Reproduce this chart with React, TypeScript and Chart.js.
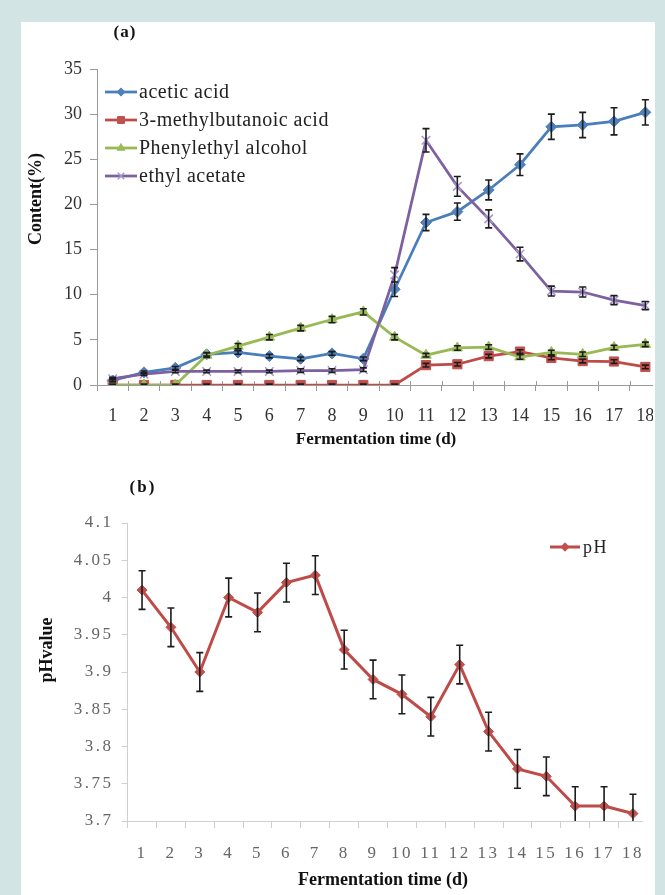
import React, { useEffect, useRef } from "react";
import { Chart, registerables } from "chart.js";
import { drawPoint } from "chart.js/helpers";

Chart.register(...registerables);

const SERIF = '"Liberation Serif", "Times New Roman", serif';

// ---------- data ----------
const days = ["1", "2", "3", "4", "5", "6", "7", "8", "9", "10", "11", "12", "13", "14", "15", "16", "17", "18"];

const aceticAcid = [0.5, 1.4, 1.9, 3.4, 3.6, 3.2, 2.9, 3.5, 2.9, 10.6, 18.0, 19.2, 21.6, 24.4, 28.6, 28.8, 29.2, 30.2];
const aceticAcidErr = [0.15, 0.15, 0.15, 0.2, 0.2, 0.2, 0.2, 0.2, 0.2, 0.8, 0.9, 0.95, 1.1, 1.2, 1.4, 1.4, 1.5, 1.4];

const methylbutanoicAcid = [0, 0, 0, 0, 0, 0, 0, 0, 0, 0, 2.2, 2.3, 3.2, 3.7, 3.0, 2.65, 2.6, 2.0];
const methylbutanoicAcidErr = [0.1, 0.1, 0.1, 0.1, 0.1, 0.1, 0.1, 0.1, 0.1, 0.1, 0.2, 0.2, 0.2, 0.2, 0.2, 0.2, 0.2, 0.2];

const phenylethylAlcohol = [0, 0, 0, 3.3, 4.3, 5.3, 6.3, 7.25, 8.1, 5.3, 3.3, 4.1, 4.2, 3.1, 3.6, 3.4, 4.15, 4.5];
const phenylethylAlcoholErr = [0.1, 0.1, 0.1, 0.25, 0.3, 0.3, 0.3, 0.35, 0.35, 0.3, 0.2, 0.25, 0.25, 0.25, 0.25, 0.25, 0.25, 0.25];

const ethylAcetate = [0.7, 1.2, 1.5, 1.5, 1.5, 1.5, 1.6, 1.6, 1.7, 12.2, 27.1, 22.0, 18.4, 14.5, 10.4, 10.3, 9.4, 8.8];
const ethylAcetateErr = [0.15, 0.15, 0.15, 0.15, 0.15, 0.15, 0.2, 0.2, 0.2, 0.8, 1.3, 1.1, 1.0, 0.75, 0.55, 0.55, 0.5, 0.45];

const phValues = [4.01, 3.96, 3.9, 4.0, 3.98, 4.02, 4.03, 3.93, 3.89, 3.87, 3.84, 3.91, 3.82, 3.77, 3.76, 3.72, 3.72, 3.71];
const phErr = [0.026, 0.026, 0.026, 0.026, 0.026, 0.026, 0.026, 0.026, 0.026, 0.026, 0.026, 0.026, 0.026, 0.026, 0.026, 0.026, 0.026, 0.026];

const contentMin = 0;
const contentMax = 35;
const contentStep = 5;
const phMin = 3.7;
const phMax = 4.1;
const phStep = 0.05;

// ---------- plugins ----------
function errorBarPlugin(errors: number[][], cap: number) {
  return {
    id: "errorBars",
    afterDatasetsDraw(chart: any) {
      const { ctx, chartArea } = chart;
      ctx.save();
      ctx.beginPath();
      ctx.rect(chartArea.left, chartArea.top, chartArea.right - chartArea.left, chartArea.bottom - chartArea.top);
      ctx.clip();
      ctx.beginPath();
      chart.data.datasets.forEach((ds: any, i: number) => {
        const errs = errors[i];
        if (!errs) return;
        const meta = chart.getDatasetMeta(i);
        const yScale = chart.scales[meta.yAxisID];
        meta.data.forEach((pt: any, j: number) => {
          const v = ds.data[j];
          const e = errs[j];
          if (!e) return;
          const x = pt.x;
          const yTop = yScale.getPixelForValue(v + e);
          const yBot = yScale.getPixelForValue(v - e);
          ctx.moveTo(x, yTop);
          ctx.lineTo(x, yBot);
          ctx.moveTo(x - cap, yTop);
          ctx.lineTo(x + cap, yTop);
          ctx.moveTo(x - cap, yBot);
          ctx.lineTo(x + cap, yBot);
        });
      });
      ctx.strokeStyle = "#1c1c1c";
      ctx.lineWidth = 1.6;
      ctx.stroke();
      ctx.restore();
    },
  };
}

type LegendCfg = { x: number; y: number; rowH: number; lineLen: number; gap: number; font: string; spacing: number; markerScale: number };

function lineLegendPlugin(cfg: LegendCfg) {
  return {
    id: "lineLegend",
    afterDraw(chart: any) {
      const { ctx, chartArea } = chart;
      chart.data.datasets.forEach((ds: any, i: number) => {
        const y = chartArea.top + cfg.y + i * cfg.rowH;
        const x0 = chartArea.left + cfg.x;
        ctx.save();
        ctx.strokeStyle = ds.borderColor;
        ctx.lineWidth = ds.borderWidth;
        ctx.beginPath();
        ctx.moveTo(x0, y);
        ctx.lineTo(x0 + cfg.lineLen, y);
        ctx.stroke();
        ctx.fillStyle = ds.pointBackgroundColor;
        ctx.strokeStyle = ds.pointBorderColor;
        ctx.lineWidth = ds.pointBorderWidth;
        drawPoint(
          ctx,
          { pointStyle: ds.pointStyle, radius: ds.pointRadius * cfg.markerScale, borderWidth: ds.pointBorderWidth, rotation: 0 } as any,
          x0 + cfg.lineLen / 2,
          y
        );
        ctx.font = cfg.font;
        (ctx as any).letterSpacing = cfg.spacing + "px";
        ctx.fillStyle = "#222";
        ctx.textAlign = "left";
        ctx.textBaseline = "middle";
        ctx.fillText(ds.label, x0 + cfg.lineLen + cfg.gap, y + 1);
        ctx.restore();
      });
    },
  };
}

type TextItem = { text: string; x: number; y: number; rotate?: boolean; font: string; spacing?: number };

function textPlugin(items: TextItem[]) {
  return {
    id: "extraText",
    afterDraw(chart: any) {
      const ctx = chart.ctx;
      for (const it of items) {
        ctx.save();
        ctx.font = it.font;
        (ctx as any).letterSpacing = (it.spacing ?? 0) + "px";
        ctx.fillStyle = "#111";
        ctx.textAlign = "center";
        ctx.textBaseline = "middle";
        ctx.translate(it.x, it.y);
        if (it.rotate) ctx.rotate(-Math.PI / 2);
        ctx.fillText(it.text, 0, 0);
        ctx.restore();
      }
    },
  };
}

function crossTickPlugin(up: number, color: string) {
  return {
    id: "crossTicks",
    beforeDatasetsDraw(chart: any) {
      const { ctx, chartArea } = chart;
      const xs = chart.scales.x;
      const n = chart.data.labels.length;
      const step = (chartArea.right - chartArea.left) / n;
      ctx.save();
      ctx.strokeStyle = color;
      ctx.lineWidth = 1;
      ctx.beginPath();
      for (let k = 1; k <= n; k++) {
        const x = Math.round(xs.left + k * step) + 0.5;
        ctx.moveTo(x, chartArea.bottom - up);
        ctx.lineTo(x, chartArea.bottom);
      }
      ctx.stroke();
      ctx.restore();
    },
  };
}

function letterSpacingPlugin(px: number) {
  return {
    id: "tickSpacing",
    beforeDraw(chart: any) {
      (chart.ctx as any).letterSpacing = px + "px";
    },
  };
}

// ---------- configs ----------
function configA(): any {
  const mk = (label: string, data: number[], line: string, fill: string, style: string, radius: number, pbColor: string, pbWidth: number, order: number) => ({
    label,
    data,
    borderColor: line,
    borderWidth: 2.75,
    backgroundColor: fill,
    pointBackgroundColor: fill,
    pointBorderColor: pbColor,
    pointBorderWidth: pbWidth,
    pointStyle: style,
    pointRadius: radius,
    pointHoverRadius: radius,
    tension: 0,
    fill: false,
    order,
  });
  return {
    type: "line",
    data: {
      labels: days,
      datasets: [
        mk("acetic acid", aceticAcid, "#4A7EBB", "#4F81BD", "rectRot", 5.5, "#4F81BD", 1, 4),
        mk("3-methylbutanoic acid", methylbutanoicAcid, "#BE4B48", "#C0504D", "rect", 6.5, "#C0504D", 1, 3),
        mk("Phenylethyl alcohol", phenylethylAlcohol, "#98B954", "#9BBB59", "triangle", 6, "#9BBB59", 1, 2),
        mk("ethyl acetate", ethylAcetate, "#7D60A0", "#a795cf", "crossRot", 6, "#a795cf", 1.5, 1),
      ],
    },
    options: {
      responsive: false,
      animation: false,
      events: [],
      layout: { padding: { top: 47, right: 20, left: 0, bottom: 0 } },
      plugins: { legend: { display: false }, tooltip: { enabled: false } },
      scales: {
        x: {
          type: "category",
          offset: true,
          grid: { offset: true, drawOnChartArea: false, tickLength: 6, color: "#9a9a9a", lineWidth: 1 },
          border: { color: "#9a9a9a", width: 1 },
          ticks: { font: { family: SERIF, size: 18 }, color: "#333", padding: 14, maxRotation: 0, minRotation: 0, autoSkip: false },
          afterFit: (s: any) => {
            s.height = 87;
          },
        },
        y: {
          min: contentMin,
          max: contentMax,
          ticks: { stepSize: contentStep, font: { family: SERIF, size: 18 }, color: "#333", padding: 8 },
          grid: { drawOnChartArea: false, tickLength: 7, color: "#9a9a9a" },
          border: { color: "#9a9a9a", width: 1 },
          afterFit: (s: any) => {
            s.width = 76;
          },
        },
      },
    },
    plugins: [
      crossTickPlugin(4, "#9a9a9a"),
      errorBarPlugin([aceticAcidErr, methylbutanoicAcidErr, phenylethylAlcoholErr, ethylAcetateErr], 3.5),
      lineLegendPlugin({ x: 8, y: 23, rowH: 28, lineLen: 32, gap: 2, font: `20px ${SERIF}`, spacing: 0.5, markerScale: 0.75 }),
      textPlugin([
        { text: "(a)", x: 104, y: 11, font: `bold 17px ${SERIF}`, spacing: 1 },
        { text: "Content(%)", x: 15, y: 177, rotate: true, font: `bold 18px ${SERIF}` },
        { text: "Fermentation time (d)", x: 355, y: 418, font: `bold 17px ${SERIF}` },
      ]),
    ],
  };
}

function configB(): any {
  return {
    type: "line",
    data: {
      labels: days,
      datasets: [
        {
          label: "pH",
          data: phValues,
          borderColor: "#BE4B48",
          borderWidth: 3,
          backgroundColor: "#C0504D",
          pointBackgroundColor: "#C0504D",
          pointBorderColor: "#C0504D",
          pointBorderWidth: 1,
          pointStyle: "rectRot",
          pointRadius: 5,
          pointHoverRadius: 5,
          tension: 0,
          fill: false,
        },
      ],
    },
    options: {
      responsive: false,
      animation: false,
      events: [],
      layout: { padding: { top: 51, right: 33.6, left: 0, bottom: 0 } },
      plugins: { legend: { display: false }, tooltip: { enabled: false } },
      scales: {
        x: {
          type: "category",
          offset: true,
          grid: { offset: true, drawOnChartArea: false, tickLength: 7, color: "#cfcfcf", lineWidth: 1 },
          border: { color: "#cfcfcf", width: 1 },
          ticks: { font: { family: SERIF, size: 17 }, color: "#666", padding: 15, maxRotation: 0, minRotation: 0, autoSkip: false },
          afterFit: (s: any) => {
            s.height = 74;
          },
        },
        y: {
          min: phMin,
          max: phMax,
          ticks: {
            stepSize: phStep,
            font: { family: SERIF, size: 17 },
            color: "#666",
            padding: 8,
            callback: (v: any) => String(+Number(v).toFixed(2)),
          },
          grid: { drawOnChartArea: false, tickLength: 6, color: "#cfcfcf" },
          border: { color: "#cfcfcf", width: 1 },
          afterFit: (s: any) => {
            s.width = 106.6;
          },
        },
      },
    },
    plugins: [
      letterSpacingPlugin(2.5),
      errorBarPlugin([phErr], 3.5),
      lineLegendPlugin({ x: 422.4, y: 24, rowH: 28, lineLen: 30, gap: 3, font: `18px ${SERIF}`, spacing: 1.5, markerScale: 0.85 }),
      textPlugin([
        { text: "(b)", x: 122, y: 16, font: `bold 17px ${SERIF}`, spacing: 2 },
        { text: "pHvalue", x: 26, y: 178, rotate: true, font: `bold 18px ${SERIF}` },
        { text: "Fermentation time (d)", x: 362, y: 408, font: `bold 18px ${SERIF}` },
      ]),
    ],
  };
}

function ChartBox(props: { make: () => any; left: number; top: number; width: number; height: number; clipWidth: number }) {
  const ref = useRef<HTMLCanvasElement>(null);
  useEffect(() => {
    const chart = new Chart(ref.current as HTMLCanvasElement, props.make());
    return () => chart.destroy();
  }, []);
  return (
    <div style={{ position: "absolute", left: props.left, top: props.top, width: props.clipWidth, height: props.height, overflow: "hidden" }}>
      <canvas ref={ref} width={props.width} height={props.height} style={{ display: "block", width: props.width, height: props.height }} />
    </div>
  );
}

export default function App() {
  return (
    <div style={{ position: "absolute", left: 0, top: 0, width: 665, height: 895, background: "#d2e4e4", overflow: "hidden" }}>
      <div style={{ position: "absolute", left: 21, top: 22, width: 634, height: 873, background: "#ffffff" }} />
      <ChartBox make={configA} left={21} top={22} width={660} height={450} clipWidth={632} />
      <ChartBox make={configB} left={21} top={472} width={660} height={423} clipWidth={622} />
    </div>
  );
}
